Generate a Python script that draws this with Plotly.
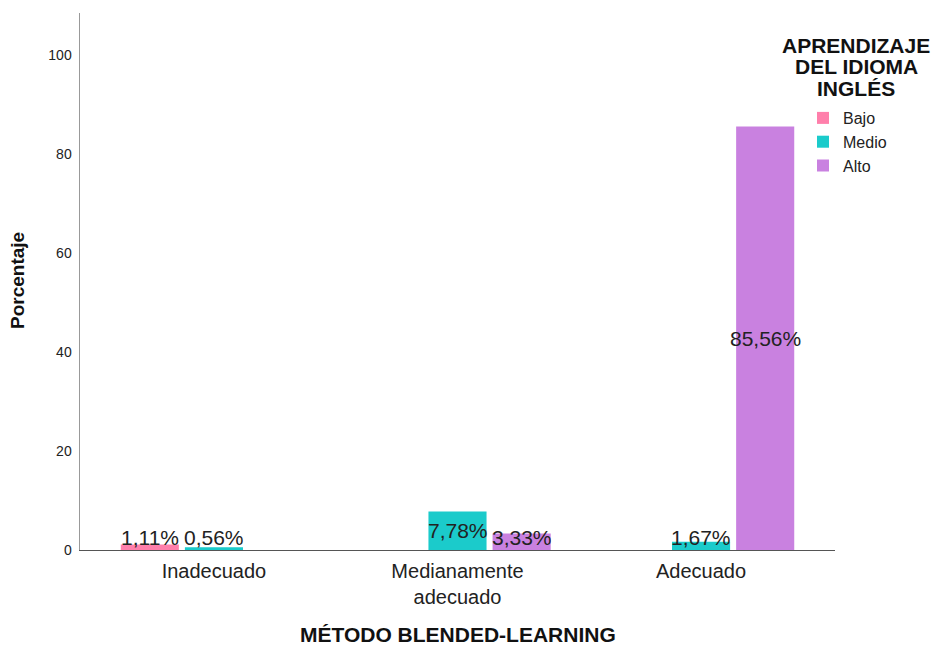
import plotly.graph_objects as go

categories = ["Inadecuado", "Medianamente<br>adecuado", "Adecuado"]
series_names = ["Bajo", "Medio", "Alto"]
bajo = [1.11, None, None]
medio = [0.56, 7.78, 1.67]
alto = [None, 3.33, 85.56]
series_values = [bajo, medio, alto]
colors = ["#FF7FAB", "#1BCBCB", "#C981E0"]
y_ticks = [0, 20, 40, 60, 80, 100]

FONT = "Liberation Sans, Arial, sans-serif"
BARGAP = 0.21
BARGROUPGAP = 0.094
LABEL_MIN = 2.6

W, H = 934, 646
ML, MR, MT, MB = 80, 99, 13, 96
PW, PH = W - ML - MR, H - MT - MB


def px_to_paper_x(px):
    return (px - ML) / PW


def py_to_paper_y(py):
    return 1 - (py - MT) / PH


fig = go.Figure()
for name, vals, col in zip(series_names, series_values, colors):
    fig.add_trace(go.Bar(
        x=categories, y=vals, name=name,
        marker=dict(color=col, line=dict(width=0)),
        hoverinfo="skip",
    ))

annotations = []
n = len(series_names)
slot = (1 - BARGAP) / n
for k, vals in enumerate(series_values):
    for i, v in enumerate(vals):
        if v is None:
            continue
        xc = i + (k - (n - 1) / 2) * slot
        annotations.append(dict(
            x=xc, y=max(v / 2, LABEL_MIN), xref="x", yref="y",
            text=f"{v:.2f}%".replace(".", ","), showarrow=False,
            font=dict(family=FONT, size=21, color="#222"),
            xanchor="center", yanchor="middle",
        ))

# axis titles
annotations.append(dict(
    x=0.5, y=py_to_paper_y(634), xref="paper", yref="paper",
    text="<b>MÉTODO BLENDED-LEARNING</b>", showarrow=False,
    font=dict(family=FONT, size=21, color="#111"),
    xanchor="center", yanchor="middle",
))
annotations.append(dict(
    x=px_to_paper_x(18), y=py_to_paper_y(281), xref="paper", yref="paper",
    text="<b>Porcentaje</b>", showarrow=False, textangle=-90,
    font=dict(family=FONT, size=19, color="#111"),
    xanchor="center", yanchor="middle",
))
# legend title lines
for line, py in zip(["APRENDIZAJE", "DEL IDIOMA", "INGLÉS"], [45, 66.5, 88]):
    annotations.append(dict(
        x=px_to_paper_x(856), y=py_to_paper_y(py), xref="paper", yref="paper",
        text=f"<b>{line}</b>", showarrow=False,
        font=dict(family=FONT, size=21, color="#111"),
        xanchor="center", yanchor="middle",
    ))

fig.update_layout(
    width=W, height=H,
    margin=dict(l=ML, r=MR, t=MT, b=MB),
    paper_bgcolor="white", plot_bgcolor="white",
    barmode="group", bargap=BARGAP, bargroupgap=BARGROUPGAP,
    font=dict(family=FONT, color="#222"),
    showlegend=True,
    legend=dict(
        x=px_to_paper_x(803), y=py_to_paper_y(101),
        xanchor="left", yanchor="top",
        font=dict(family=FONT, size=16, color="#222"),
        bgcolor="rgba(0,0,0,0)", tracegroupgap=0,
    ),
    annotations=annotations,
    xaxis=dict(
        type="category", range=[-0.55, 2.55],
        showline=True, linecolor="#555", linewidth=1,
        ticks="", showgrid=False, zeroline=False,
        tickfont=dict(family=FONT, size=20, color="#222"),
        ticklabelstandoff=3,
    ),
    yaxis=dict(
        range=[0, 108.5], tickvals=y_ticks,
        showline=True, linecolor="#999", linewidth=1.5,
        ticks="", showgrid=False, zeroline=False,
        tickfont=dict(family=FONT, size=14, color="#222"),
        ticklabelstandoff=4,
    ),
)

fig.write_html(
    "out.html",
    config={"displayModeBar": False, "staticPlot": True},
    post_script="document.body.style.margin='0';",
)
